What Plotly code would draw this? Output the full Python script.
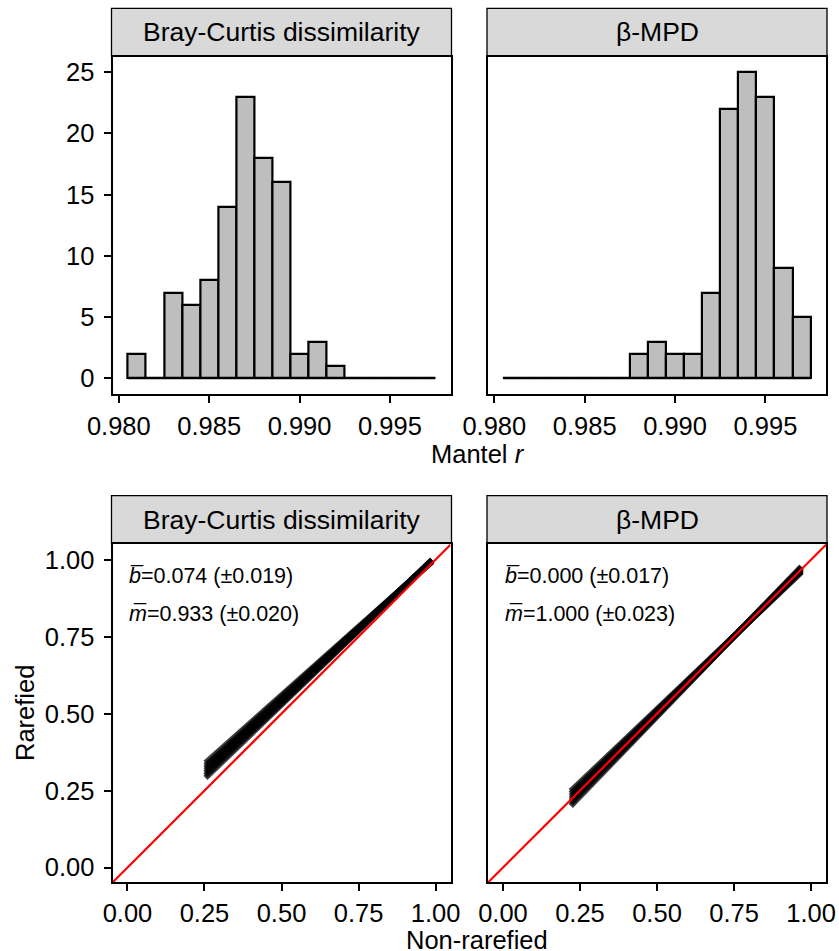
import plotly.graph_objects as go

W, H = 839, 951

# ---------------- data ----------------
panel_titles = ["Bray-Curtis dissimilarity", "β-MPD"]
bin_width = 0.001
bin_centers = [0.981, 0.982, 0.983, 0.984, 0.985, 0.986, 0.987, 0.988, 0.989,
               0.990, 0.991, 0.992, 0.993, 0.994, 0.995, 0.996, 0.997]
bc_counts = [2, 0, 7, 6, 8, 14, 23, 18, 16, 2, 3, 1, 0, 0, 0, 0, 0]
mpd_counts = [0, 0, 0, 0, 0, 0, 0, 2, 3, 2, 2, 7, 22, 25, 23, 9, 5]

hist_xticks = [0.980, 0.985, 0.990, 0.995]
hist_yticks = [0, 5, 10, 15, 20, 25]
scat_ticks = [0.00, 0.25, 0.50, 0.75, 1.00]

# fitted rarefied-vs-non-rarefied lines (start / end)
bc_x_range = [0.253, 0.989]
bc_y_start = [0.291, 0.299, 0.307, 0.315, 0.323, 0.331, 0.340]
bc_y_end = [1.000, 0.999, 0.998, 0.997, 0.996, 0.995, 0.994]
mpd_x_range = [0.220, 0.969]
mpd_y_start = [0.200, 0.208, 0.216, 0.224, 0.232, 0.240, 0.248]
mpd_y_end = [0.978, 0.975, 0.972, 0.969, 0.966, 0.963, 0.960]

bc_labels = ["<i>b\u0305</i>=0.074 (±0.019)", "<i>m\u0305</i>=0.933 (±0.020)"]
mpd_labels = ["<i>b\u0305</i>=0.000 (±0.017)", "<i>m\u0305</i>=1.000 (±0.023)"]
label_y = [0.947, 0.822]

# ---------------- layout geometry (pixels) ----------------
FONT = "Liberation Sans, Arial, Helvetica, sans-serif"
TICK_SIZE = 25.5
TITLE_SIZE = 25.5
STRIP_SIZE = 26.5
ANN_SIZE = 21.5

px = lambda v: v / W
py = lambda v: 1 - v / H

cols = [(112.5, 450.5), (488.0, 826.0)]
top_rows = (57.0, 393.5)
bot_rows = (544.0, 882.0)
top_strip = (8.3, 56.0)
bot_strip = (495.7, 543.3)

hist_xrange = [0.97965, 0.99835]
hist_yrange = [-1.25, 26.25]
scat_xrange = [-0.0485, 1.0485]
scat_yrange = [-0.047, 1.051]

fig = go.Figure()

# ---------------- histograms ----------------
for i, counts in enumerate([bc_counts, mpd_counts]):
    ax = "" if i == 0 else "2"
    lo = bin_centers[0] - bin_width / 2
    hi = bin_centers[-1] + bin_width / 2
    fig.add_trace(go.Scatter(x=[lo, hi], y=[0, 0], mode="lines",
                             line=dict(color="black", width=2.2),
                             xaxis="x" + ax, yaxis="y" + ax, showlegend=False,
                             hoverinfo="skip"))
    fig.add_trace(go.Bar(x=bin_centers, y=counts, width=bin_width,
                         marker=dict(color="#BEBEBE", line=dict(color="black", width=2.2)),
                         xaxis="x" + ax, yaxis="y" + ax, showlegend=False))

# ---------------- scatter panels ----------------
for i, (xr, ys, ye) in enumerate([(bc_x_range, bc_y_start, bc_y_end),
                                  (mpd_x_range, mpd_y_start, mpd_y_end)]):
    ax = str(3 + i)
    for a, b in zip(ys, ye):
        fig.add_trace(go.Scatter(x=xr, y=[a, b], mode="lines",
                                 line=dict(color="rgba(0,0,0,0.75)", width=6),
                                 xaxis="x" + ax, yaxis="y" + ax, showlegend=False,
                                 hoverinfo="skip"))
    fig.add_trace(go.Scatter(x=scat_xrange, y=scat_xrange, mode="lines",
                             line=dict(color="#FF0000", width=2.2),
                             xaxis="x" + ax, yaxis="y" + ax, showlegend=False,
                             hoverinfo="skip"))

# ---------------- axes ----------------
def axis_common(**kw):
    d = dict(showline=True, mirror=True, linecolor="black", linewidth=2,
             showgrid=False, zeroline=False, ticks="outside", ticklen=7,
             tickwidth=2, tickcolor="black", automargin=False,
             tickfont=dict(family=FONT, size=TICK_SIZE, color="black"))
    d.update(kw)
    return d

layout = dict(
    width=W, height=H, margin=dict(l=0, r=0, t=0, b=0, autoexpand=False),
    paper_bgcolor="white", plot_bgcolor="white", bargap=0,
    showlegend=False, font=dict(family=FONT, color="black"),
)
# top row
for i in range(2):
    sfx = "" if i == 0 else str(i + 1)
    layout["xaxis" + sfx] = axis_common(
        domain=[px(cols[i][0]), px(cols[i][1])], range=hist_xrange,
        tickvals=hist_xticks, tickformat=".3f", anchor="y" + sfx,
        ticklabelstandoff=2)
    layout["yaxis" + sfx] = axis_common(
        domain=[py(top_rows[1]), py(top_rows[0])], range=hist_yrange,
        tickvals=hist_yticks, anchor="x" + sfx,
        showticklabels=(i == 0), ticks="outside" if i == 0 else "",
        ticklabelstandoff=4)
# bottom row
for i in range(2):
    sfx = str(i + 3)
    layout["xaxis" + sfx] = axis_common(
        domain=[px(cols[i][0]), px(cols[i][1])], range=scat_xrange,
        tickvals=scat_ticks, tickformat=".2f", anchor="y" + sfx,
        ticklabelstandoff=0)
    layout["yaxis" + sfx] = axis_common(
        domain=[py(bot_rows[1]), py(bot_rows[0])], range=scat_yrange,
        tickvals=scat_ticks, tickformat=".2f", anchor="x" + sfx,
        showticklabels=(i == 0), ticks="outside" if i == 0 else "",
        ticklabelstandoff=4)

fig.update_layout(**layout)

# ---------------- strips ----------------
shapes = []
annotations = []
for strip in [top_strip, bot_strip]:
    for i in range(2):
        shapes.append(dict(type="rect", xref="paper", yref="paper",
                           x0=px(cols[i][0] - 1), x1=px(cols[i][1] + 1),
                           y0=py(strip[1]), y1=py(strip[0]),
                           fillcolor="#D9D9D9", line=dict(color="black", width=1.3),
                           layer="below"))
        annotations.append(dict(xref="paper", yref="paper",
                                x=px((cols[i][0] + cols[i][1]) / 2),
                                y=py((strip[0] + strip[1]) / 2),
                                text=panel_titles[i], showarrow=False,
                                xanchor="center", yanchor="middle",
                                font=dict(family=FONT, size=STRIP_SIZE, color="black")))

# in-panel labels
for i, labels in enumerate([bc_labels, mpd_labels]):
    ax = str(3 + i)
    for t, yv in zip(labels, label_y):
        annotations.append(dict(xref="x" + ax, yref="y" + ax, x=0, y=yv,
                                text=t, showarrow=False, xanchor="left",
                                yanchor="middle",
                                font=dict(family=FONT, size=ANN_SIZE, color="black")))

# axis titles
annotations.append(dict(xref="paper", yref="paper", x=px(478), y=py(454),
                        text="Mantel <i>r</i>", showarrow=False,
                        xanchor="center", yanchor="middle",
                        font=dict(family=FONT, size=TITLE_SIZE, color="black")))
annotations.append(dict(xref="paper", yref="paper", x=px(477), y=py(940),
                        text="Non-rarefied", showarrow=False,
                        xanchor="center", yanchor="middle",
                        font=dict(family=FONT, size=TITLE_SIZE, color="black")))
annotations.append(dict(xref="paper", yref="paper", x=px(25), y=py(713),
                        text="Rarefied", showarrow=False, textangle=-90,
                        xanchor="center", yanchor="middle",
                        font=dict(family=FONT, size=TITLE_SIZE, color="black")))

fig.update_layout(shapes=shapes, annotations=annotations)
fig.write_html("out.html")
